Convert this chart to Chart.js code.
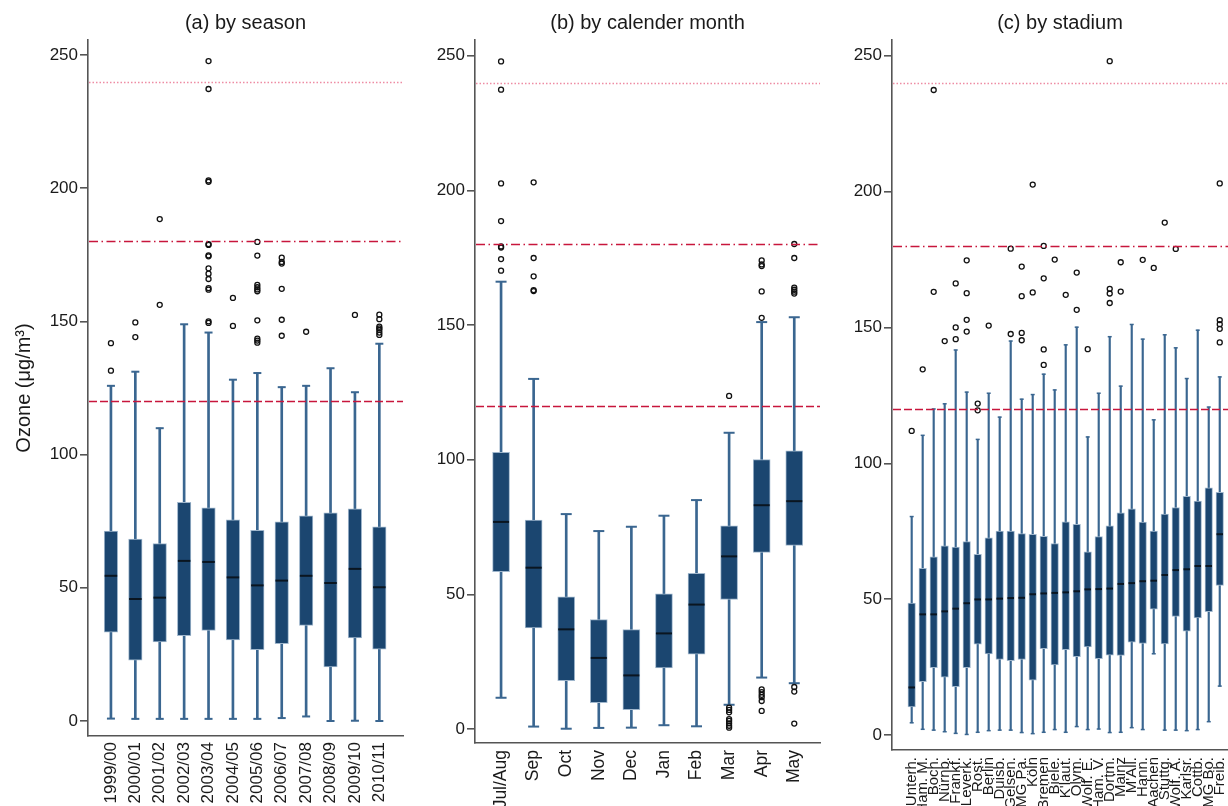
<!DOCTYPE html>
<html>
<head>
<meta charset="utf-8">
<title>Ozone concentrations</title>
<script src="https://cdn.jsdelivr.net/npm/chart.js@4/dist/chart.umd.min.js"></script>
<style>
  html, body { margin: 0; padding: 0; background: #fff; overflow: hidden; }
  #wrap { position: relative; width: 1228px; height: 806px; overflow: hidden; }
  canvas { position: absolute; top: 0; }
</style>
</head>
<body>
<div id="wrap">
  <canvas id="panelA" width="412" height="806" style="left:0px"></canvas>
  <canvas id="panelB" width="398" height="806" style="left:430px"></canvas>
  <canvas id="panelC" width="388" height="806" style="left:840px"></canvas>
</div>
<script>
// ---- (a) by season ----
const seasons = ['1999/00', '2000/01', '2001/02', '2002/03', '2003/04', '2004/05',
                 '2005/06', '2006/07', '2007/08', '2008/09', '2009/10', '2010/11'];
const seasonLow    = [0.9, 0.8, 0.8, 0.8, 0.8, 0.8, 0.8, 1.1, 1.7, 0.0, 0.1, 0.0];
const seasonQ1     = [33.3, 22.8, 29.7, 32.0, 34.0, 30.4, 26.8, 29.0, 35.9, 20.3, 31.2, 27.0];
const seasonMedian = [54.5, 45.8, 46.3, 60.1, 59.7, 53.9, 50.9, 52.7, 54.5, 51.8, 57.1, 50.2];
const seasonQ3     = [71.3, 68.3, 66.6, 82.1, 80.0, 75.5, 71.6, 74.8, 77.0, 78.1, 79.6, 72.9];
const seasonHigh   = [125.8, 131.1, 109.9, 148.9, 145.8, 128.1, 130.6, 125.3, 125.8, 132.4, 123.4, 141.6];
const seasonOutliers = [
  [131.5, 141.8],
  [144.1, 149.6],
  [156.2, 188.4],
  [],
  [149.4, 150.0, 161.9, 162.5, 165.9, 167.9, 169.9, 174.4, 174.8, 178.7, 179.0, 202.4, 202.9, 237.2, 247.7],
  [148.3, 158.8],
  [142.0, 142.8, 143.5, 150.4, 161.3, 162.0, 162.8, 163.7, 174.7, 179.8],
  [144.6, 150.6, 162.2, 171.7, 172.3, 173.9],
  [146.1],
  [],
  [152.4],
  [144.9, 145.8, 146.8, 147.4, 148.0, 150.8, 152.5]
];

// ---- (b) by calendar month ----
const months = ['Jul/Aug', 'Sep', 'Oct', 'Nov', 'Dec', 'Jan', 'Feb', 'Mar', 'Apr', 'May'];
const monthLow    = [11.6, 0.9, 0.1, 0.4, 0.5, 1.4, 1.0, 9.0, 19.1, 17.0];
const monthQ1     = [58.4, 37.5, 17.9, 9.8, 7.2, 22.7, 27.8, 48.1, 65.6, 68.2];
const monthMedian = [76.9, 59.9, 37.0, 26.4, 19.9, 35.5, 46.2, 64.1, 83.1, 84.6];
const monthQ3     = [102.7, 77.6, 49.1, 40.6, 36.9, 50.2, 57.8, 75.4, 100.0, 103.3];
const monthHigh   = [166.1, 130.0, 79.8, 73.5, 75.1, 79.2, 85.0, 110.0, 151.1, 152.9];
const monthOutliers = [
  [170.2, 174.5, 178.8, 179.2, 188.6, 202.6, 237.4, 247.9],
  [162.6, 163.0, 168.1, 174.9, 203.0],
  [], [], [], [], [],
  [123.7, 7.9, 7.1, 6.2, 3.7, 3.0, 2.1, 1.2, 0.5],
  [152.7, 162.5, 171.9, 172.5, 174.0, 14.7, 13.7, 12.7, 11.8, 10.4, 6.7],
  [161.7, 162.4, 163.1, 163.9, 174.9, 180.1, 15.6, 13.9, 2.0]
];

// ---- (c) by stadium ----
const stadiums = ['Unterh.', 'Ham. M.', 'Boch.', 'Nürnb.', 'Frankf.', 'Leverk.', 'Rost.', 'Berlin',
                  'Duisb.', 'Gelsen.', 'MG Pa.', 'Köln', 'Bremen', 'Biele.', "K'laut.", 'Olym.',
                  'Wolf. E.', 'Ham. V.', 'Dortm.', 'Mainz', "M'All.", 'Hann.', 'Aachen', 'Stuttg.',
                  'Wolf. A.', 'Karlsr.', 'Cottb.', 'MG Bo.', 'Freib.'];
const stadiumLow    = [4.5, 2.1, 1.8, 1.2, 0.6, 0.2, 1.0, 1.6, 1.8, 1.8, 0.9, 0.5, 1.0, 2.0, 1.0,
                       3.1, 2.0, 2.2, 0.9, 1.0, 2.7, 2.0, 29.9, 1.8, 1.8, 1.6, 2.0, 4.9, 18.0];
const stadiumQ1     = [10.3, 19.6, 24.8, 21.3, 17.8, 24.8, 33.4, 29.8, 27.8, 27.4, 27.8, 20.2, 31.8, 25.8, 31.4,
                       28.8, 32.4, 28.1, 29.4, 29.3, 34.2, 33.7, 46.3, 33.5, 43.6, 38.2, 43.1, 45.4, 55.1];
const stadiumMedian = [17.5, 44.4, 44.4, 45.5, 46.5, 48.5, 49.9, 49.9, 50.2, 50.4, 50.5, 51.8, 52.1, 52.3, 52.5,
                       52.9, 53.6, 53.7, 53.9, 55.6, 55.9, 56.6, 56.8, 58.9, 60.7, 61.0, 62.2, 62.2, 73.9];
const stadiumQ3     = [48.6, 61.3, 65.6, 69.6, 69.2, 71.2, 66.5, 72.6, 75.1, 75.1, 74.1, 73.9, 73.1, 70.5, 78.5,
                       77.5, 67.4, 73.0, 77.0, 81.8, 83.2, 78.4, 75.1, 81.3, 83.7, 87.8, 86.1, 91.0, 89.3];
const stadiumHigh   = [80.4, 110.3, 120.0, 121.9, 141.7, 126.2, 108.8, 125.8, 117.0, 145.0, 123.6, 125.3, 132.8, 127.0, 143.6,
                       150.1, 109.7, 125.8, 146.6, 128.4, 151.1, 145.7, 116.0, 147.3, 142.5, 131.2, 149.0, 120.7, 131.8];
const stadiumOutliers = [
  [111.9], [134.6], [163.1, 237.4], [145.0], [145.7, 150.0, 166.2],
  [148.5, 152.8, 162.6, 174.7], [119.5, 122.0], [150.7], [], [147.6, 179.0],
  [145.3, 148.0, 161.5, 172.4], [162.9, 202.6], [136.2, 141.9, 168.1, 180.0], [175.0], [162.0],
  [156.5, 170.2], [142.0], [], [159.0, 162.5, 164.2, 248.0], [163.2, 174.0],
  [], [174.9], [171.9], [188.6], [178.9],
  [], [], [], [144.5, 149.5, 151.2, 152.7, 203.0]
];

// Threshold levels (µg/m³) and shared y ticks
const limitValues = [120, 180, 240];
const yTickValues = [0, 50, 100, 150, 200, 250];

// ---- styling ----
const FONT = "'Liberation Sans', Arial, Helvetica, sans-serif";
const TEXT = '#1a1a1a';
const AXIS = '#555555';
const BOX = '#1b4670';
const BOX_EDGE = '#9fb6cc';
const WHISKER = '#3a6690';
const MEDIAN = '#0a1520';
const limitStyles = [
  { color: '#c8163c', width: 1.5, dash: [8, 3] },
  { color: '#c8163c', width: 1.5, dash: [9, 3.5, 1.5, 3.5] },
  { color: '#ee8ca3', width: 1.3, dash: [1.5, 2] }
];

Chart.defaults.font.family = FONT;
Chart.defaults.color = TEXT;

const limitLinesPlugin = {
  id: 'limitLines',
  afterDatasetsDraw(chart) {
    const { ctx, chartArea, scales } = chart;
    ctx.save();
    limitValues.forEach((v, k) => {
      const st = limitStyles[k];
      const y = Math.round(scales.y.getPixelForValue(v)) + 0.5;
      ctx.beginPath();
      ctx.setLineDash(st.dash);
      ctx.lineWidth = st.width;
      ctx.strokeStyle = st.color;
      ctx.moveTo(chartArea.left + 1, y);
      ctx.lineTo(chartArea.right, y);
      ctx.stroke();
    });
    ctx.restore();
  }
};

function boxPlotDatasets(low, q1, med, q3, high, outliers, st) {
  const idx = low.map((_, i) => i);
  return [
    { type: 'bar', order: 5, grouped: false, barThickness: st.whiskerW,
      data: idx.map(i => ({ x: i, y: [low[i], high[i]] })),
      backgroundColor: WHISKER, borderWidth: 0 },
    { type: 'bar', order: 4, grouped: false, barThickness: st.boxW,
      data: idx.map(i => ({ x: i, y: [q1[i], q3[i]] })),
      backgroundColor: BOX, borderColor: BOX_EDGE, borderWidth: 1, borderSkipped: false },
    { type: 'scatter', order: 3,
      data: idx.flatMap(i => [{ x: i, y: low[i] }, { x: i, y: high[i] }]),
      pointStyle: 'line', pointRadius: st.capR, pointBorderColor: WHISKER,
      pointBorderWidth: st.whiskerW, pointBackgroundColor: WHISKER },
    { type: 'scatter', order: 2,
      data: idx.map(i => ({ x: i, y: med[i] })),
      pointStyle: 'line', pointRadius: st.boxW / 2 - 0.5, pointBorderColor: MEDIAN,
      pointBorderWidth: 2, pointBackgroundColor: MEDIAN },
    { type: 'scatter', order: 1,
      data: idx.flatMap(i => outliers[i].map(v => ({ x: i, y: v }))),
      pointStyle: 'circle', pointRadius: 2.5, pointBorderColor: '#111',
      pointBorderWidth: 1.3, pointBackgroundColor: 'rgba(255,255,255,0)' }
  ];
}

function makePanel(id, title, labels, stats, st) {
  return new Chart(document.getElementById(id), {
    type: 'bar',
    data: { datasets: boxPlotDatasets(...stats, st) },
    plugins: [limitLinesPlugin],
    options: {
      responsive: false,
      animation: false,
      events: [],
      layout: { autoPadding: false, padding: { top: 0, right: st.padRight, bottom: 0, left: 0 } },
      plugins: {
        legend: { display: false },
        tooltip: { enabled: false },
        title: {
          display: true, text: title, fullSize: false, color: TEXT,
          font: { size: 20, weight: 'normal' }, padding: { top: 11, bottom: 5 }
        }
      },
      scales: {
        x: {
          type: 'linear', min: st.xMin, max: st.xMax, offset: false,
          grid: { display: false, drawTicks: false },
          border: { display: true, color: AXIS, width: 1.6 },
          ticks: {
            autoSkip: false, maxRotation: 90, minRotation: 90,
            padding: st.labelPad, color: TEXT, font: { size: st.xFont },
            callback: v => labels[v] ?? ''
          },
          afterBuildTicks: s => { s.ticks = labels.map((_, i) => ({ value: i })); },
          afterFit: s => { s.height = st.xHeight; s.paddingLeft = 0; s.paddingRight = 0; }
        },
        y: {
          type: 'linear', min: st.yMin, max: st.yMax,
          grid: { display: true, drawOnChartArea: false, drawTicks: true, tickLength: 8, color: AXIS, lineWidth: 1.6 },
          border: { display: true, color: AXIS, width: 1.6 },
          ticks: { padding: 2, color: TEXT, font: { size: 17 } },
          afterBuildTicks: s => { s.ticks = yTickValues.map(v => ({ value: v })); },
          afterFit: s => { s.width = st.yWidth; },
          title: {
            display: !!st.yTitle, text: 'Ozone (μg/m³)', color: TEXT,
            font: { size: 20 }, padding: { top: 12, bottom: 0 }
          }
        }
      }
    }
  });
}

makePanel('panelA', '(a) by season', seasons,
  [seasonLow, seasonQ1, seasonMedian, seasonQ3, seasonHigh, seasonOutliers],
  { xMin: -0.94, xMax: 11.97, yMin: -5.63, yMax: 255.6, yWidth: 88, padRight: 9, xHeight: 70,
    boxW: 13.5, whiskerW: 2, capR: 4, labelPad: 6, xFont: 17, yTitle: true });

makePanel('panelB', '(b) by calender month', months,
  [monthLow, monthQ1, monthMedian, monthQ3, monthHigh, monthOutliers],
  { xMin: -0.8, xMax: 9.79, yMin: -5.2, yMax: 255.85, yWidth: 45, padRight: 8, xHeight: 63,
    boxW: 17, whiskerW: 2, capR: 5.5, labelPad: 7, xFont: 17.5 });

makePanel('panelC', '(c) by stadium', stadiums,
  [stadiumLow, stadiumQ1, stadiumMedian, stadiumQ3, stadiumHigh, stadiumOutliers],
  { xMin: -1.79, xMax: 28.75, yMin: -5.52, yMax: 255.8, yWidth: 52, padRight: 0, xHeight: 56,
    boxW: 7.5, whiskerW: 1.5, capR: 2, labelPad: 7, xFont: 15 });
</script>
</body>
</html>
